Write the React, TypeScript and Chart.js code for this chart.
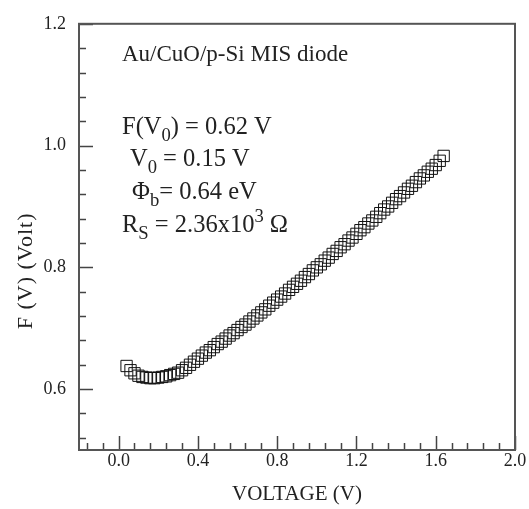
import { useEffect, useRef } from "react";
import { Chart, registerables } from "chart.js";

Chart.register(...registerables);

// Norde function data
const voltage = [
  0.04, 0.06, 0.08, 0.10, 0.12, 0.14, 0.16, 0.18, 0.20, 0.22,
  0.24, 0.26, 0.28, 0.30, 0.32, 0.34, 0.36, 0.38, 0.40, 0.42,
  0.44, 0.46, 0.48, 0.50, 0.52, 0.54, 0.56, 0.58, 0.60, 0.62,
  0.64, 0.66, 0.68, 0.70, 0.72, 0.74, 0.76, 0.78, 0.80, 0.82,
  0.84, 0.86, 0.88, 0.90, 0.92, 0.94, 0.96, 0.98, 1.00, 1.02,
  1.04, 1.06, 1.08, 1.10, 1.12, 1.14, 1.16, 1.18, 1.20, 1.22,
  1.24, 1.26, 1.28, 1.30, 1.32, 1.34, 1.36, 1.38, 1.40, 1.42,
  1.44, 1.46, 1.48, 1.50, 1.52, 1.54, 1.56, 1.58, 1.60, 1.62,
  1.64,
];
const fv = [
  0.638, 0.631, 0.626, 0.622, 0.620, 0.619, 0.618, 0.618, 0.619, 0.620,
  0.621, 0.623, 0.625, 0.627, 0.631, 0.635, 0.640, 0.645, 0.650, 0.655,
  0.660, 0.664, 0.669, 0.674, 0.678, 0.683, 0.688, 0.692, 0.697, 0.702,
  0.706, 0.711, 0.716, 0.721, 0.726, 0.731, 0.737, 0.742, 0.747, 0.752,
  0.757, 0.763, 0.768, 0.773, 0.778, 0.784, 0.789, 0.795, 0.800, 0.805,
  0.811, 0.816, 0.822, 0.827, 0.833, 0.838, 0.844, 0.849, 0.855, 0.861,
  0.866, 0.872, 0.877, 0.883, 0.889, 0.895, 0.900, 0.906, 0.912, 0.917,
  0.923, 0.929, 0.934, 0.940, 0.946, 0.951, 0.957, 0.962, 0.968, 0.975,
  0.983,
];

const xMajorTicks = [0.0, 0.4, 0.8, 1.2, 1.6, 2.0];
const xMinorTicks = [
  -0.16, -0.08, 0.08, 0.16, 0.24, 0.32, 0.48, 0.56, 0.64, 0.72,
  0.88, 0.96, 1.04, 1.12, 1.28, 1.36, 1.44, 1.52, 1.68, 1.76, 1.84, 1.92,
];
const yMajorTicks = [0.6, 0.8, 1.0, 1.2];
const yMinorTicks = [
  0.52, 0.56, 0.64, 0.68, 0.72, 0.76, 0.84, 0.88, 0.92, 0.96,
  1.04, 1.08, 1.12, 1.16,
];

const xTitle = "VOLTAGE (V)";
const yTitle = "F (V) (Volt)";
const deviceLabel = "Au/CuO/p-Si MIS diode";

type Seg = { t: string; s?: "sub" | "sup" };
const paramLines: Seg[][] = [
  [{ t: "F(V" }, { t: "0", s: "sub" }, { t: ") = 0.62 V" }],
  [{ t: "V" }, { t: "0", s: "sub" }, { t: " = 0.15 V" }],
  [{ t: "\u03A6" }, { t: "b", s: "sub" }, { t: "= 0.64 eV" }],
  [{ t: "R" }, { t: "S", s: "sub" }, { t: " = 2.36x10" }, { t: "3", s: "sup" }, { t: " \u03A9" }],
];

const SERIF = "'Liberation Serif', 'Times New Roman', serif";
const TEXT = "#222";

function drawRich(ctx: CanvasRenderingContext2D, x: number, y: number, segs: Seg[], size: number) {
  let cx = x;
  for (const seg of segs) {
    const fs = seg.s ? size * 0.76 : size;
    ctx.font = `${fs}px ${SERIF}`;
    const dy = seg.s === "sub" ? size * 0.28 : seg.s === "sup" ? -size * 0.38 : 0;
    ctx.fillText(seg.t, cx, y + dy);
    cx += ctx.measureText(seg.t).width;
  }
}

const decorPlugin = {
  id: "decor",
  afterDatasetsDraw(chart: any) {
    const { ctx, chartArea: a, scales } = chart;
    const xs = scales.x;
    const ys = scales.y;
    ctx.save();
    // ticks (inward)
    ctx.strokeStyle = "#444";
    ctx.lineWidth = 1.5;
    ctx.beginPath();
    for (const v of xMajorTicks) {
      const p = Math.round(xs.getPixelForValue(v)) + 0.5;
      ctx.moveTo(p, a.bottom);
      ctx.lineTo(p, a.bottom - 14);
    }
    for (const v of xMinorTicks) {
      const p = Math.round(xs.getPixelForValue(v)) + 0.5;
      ctx.moveTo(p, a.bottom);
      ctx.lineTo(p, a.bottom - 7);
    }
    for (const v of yMajorTicks) {
      const p = Math.round(ys.getPixelForValue(v)) + 0.5;
      ctx.moveTo(a.left, p);
      ctx.lineTo(a.left + 14, p);
    }
    for (const v of yMinorTicks) {
      const p = Math.round(ys.getPixelForValue(v)) + 0.5;
      ctx.moveTo(a.left, p);
      ctx.lineTo(a.left + 7, p);
    }
    ctx.stroke();
    // frame
    ctx.strokeStyle = "#555";
    ctx.lineWidth = 2;
    ctx.strokeRect(a.left, a.top, a.right - a.left, a.bottom - a.top);
    // annotations
    ctx.fillStyle = TEXT;
    ctx.textBaseline = "alphabetic";
    ctx.textAlign = "left";
    ctx.font = `23px ${SERIF}`;
    ctx.fillText(deviceLabel, a.left + 43, a.top + 37);
    const starts = [43, 51, 53, 43];
    const bases = [110, 142, 175, 208];
    paramLines.forEach((segs, i) => {
      drawRich(ctx, a.left + starts[i], a.top + bases[i], segs, 24.5);
    });
    // y-axis title
    ctx.save();
    ctx.translate(26, (a.top + a.bottom) / 2 + 34);
    ctx.rotate(-Math.PI / 2);
    ctx.font = `22px ${SERIF}`;
    (ctx as any).letterSpacing = "1px";
    ctx.textAlign = "center";
    ctx.textBaseline = "middle";
    ctx.fillText(yTitle, 0, 0);
    ctx.restore();
    ctx.restore();
  },
};

export default function App() {
  const ref = useRef<HTMLCanvasElement | null>(null);
  useEffect(() => {
    if (!ref.current) return;
    const chart = new Chart(ref.current, {
      type: "scatter",
      data: {
        datasets: [
          {
            data: voltage.map((v, i) => ({ x: v, y: fv[i] })),
            pointStyle: "rect",
            pointRadius: 8,
            pointBorderWidth: 1,
            borderColor: "#111",
            backgroundColor: "rgba(0,0,0,0)",
            showLine: false,
          },
        ],
      },
      options: {
        animation: false,
        responsive: false,
        events: [],
        layout: { padding: { top: 15, right: 14, left: 0, bottom: 0 } },
        plugins: { legend: { display: false }, tooltip: { enabled: false } },
        scales: {
          x: {
            type: "linear",
            min: -0.2,
            max: 2.0,
            grid: { display: false, drawTicks: false },
            border: { display: false },
            afterBuildTicks: (s: any) => {
              s.ticks = xMajorTicks.map((v) => ({ value: v }));
            },
            afterFit: (s: any) => {
              s.height = 59;
            },
            ticks: {
              padding: 0,
              color: TEXT,
              font: { family: SERIF, size: 18 },
              maxRotation: 0,
              callback: (v: any) => Number(v).toFixed(1),
            },
            title: {
              display: true,
              text: xTitle,
              color: TEXT,
              font: { family: SERIF, size: 21 },
              padding: { top: 0, bottom: 2 },
            },
          },
          y: {
            type: "linear",
            min: 0.5,
            max: 1.2,
            grid: { display: false, drawTicks: false },
            border: { display: false },
            afterBuildTicks: (s: any) => {
              s.ticks = yMajorTicks.map((v) => ({ value: v }));
            },
            afterFit: (s: any) => {
              s.width = 79;
            },
            ticks: {
              padding: 13,
              color: TEXT,
              font: { family: SERIF, size: 18 },
              callback: (v: any) => Number(v).toFixed(1),
            },
            title: { display: false },
          },
        },
      },
      plugins: [decorPlugin],
    });
    return () => chart.destroy();
  }, []);
  return (
    <div style={{ position: "absolute", left: 0, top: 0, width: 529, height: 509 }}>
      <canvas ref={ref} width={529} height={509} style={{ display: "block" }} />
    </div>
  );
}
